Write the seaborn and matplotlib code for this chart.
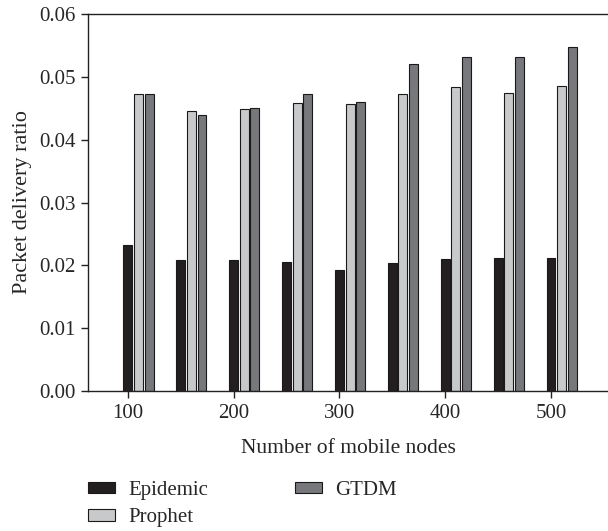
import numpy as np
import pandas as pd
import matplotlib
matplotlib.use("Agg")
import matplotlib.pyplot as plt
import seaborn as sns

nodes = [100, 150, 200, 250, 300, 350, 400, 450, 500]
epidemic = [0.0233, 0.0209, 0.0208, 0.0206, 0.0193, 0.0203, 0.0210, 0.0211, 0.0211]
prophet = [0.0472, 0.0445, 0.0449, 0.0458, 0.0457, 0.0473, 0.0484, 0.0474, 0.0485]
gtdm = [0.0473, 0.0440, 0.0450, 0.0473, 0.0460, 0.0521, 0.0531, 0.0531, 0.0548]
protocols = ["Epidemic", "Prophet", "GTDM"]
colors = ["#231f20", "#c8c9ca", "#77787b"]
tick_labels = ["100", "200", "300", "400", "500"]
tick_values = [100, 200, 300, 400, 500]

df = pd.DataFrame({
    "nodes": nodes * 3,
    "value": epidemic + prophet + gtdm,
    "protocol": [p for p in protocols for _ in nodes],
})

sns.set_style("white")
plt.rcParams["font.family"] = ["Liberation Serif", "DejaVu Serif"]

fig = plt.figure(figsize=(6.08, 5.31), dpi=100)
ax = fig.add_axes([88 / 608, 1 - 391 / 531, 1 - 88 / 608, (391 - 14) / 531])

sns.barplot(data=df, x="nodes", y="value", hue="protocol", native_scale=True,
            width=0.6, gap=0.15, palette=colors, edgecolor="#1a1a1a",
            linewidth=0.8, saturation=1, ax=ax, errorbar=None)

# ticks sit at the Epidemic bar of each labelled group
first = ax.patches[0]
offset = first.get_x() + first.get_width() / 2 - nodes[0]
ax.set_xticks([v + offset for v in tick_values])
ax.set_xticklabels(tick_labels)
ax.set_xlim(62.2 + offset, 553.9 + offset)
ax.set_ylim(0, 0.06)
ax.set_yticks(np.arange(0, 0.061, 0.01))
ax.set_yticklabels([f"{v:.2f}" for v in np.arange(0, 0.061, 0.01)])

for s in ["left", "bottom", "top"]:
    ax.spines[s].set_color("#222222")
    ax.spines[s].set_linewidth(1.0)
ax.spines["right"].set_visible(False)
ax.tick_params(axis="both", direction="out", length=5, width=1, color="#222222",
               labelsize=15, pad=4, bottom=True, left=True)
ax.tick_params(axis="y", pad=4)

ax.set_xlabel("Number of mobile nodes", fontsize=15.5, labelpad=12)
ax.set_ylabel("Packet delivery ratio", fontsize=16, labelpad=5)

handles, labels = ax.get_legend_handles_labels()
ax.get_legend().remove()
fig.legend(handles, labels, ncol=2, loc="upper left",
           bbox_to_anchor=(88 / 608, 1 - 481 / 531), frameon=False,
           fontsize=15, handlelength=1.3, handleheight=0.45, handletextpad=0.62,
           labelspacing=0.4, columnspacing=4.2, borderpad=0, borderaxespad=0)

fig.savefig("out.png", dpi=100)
